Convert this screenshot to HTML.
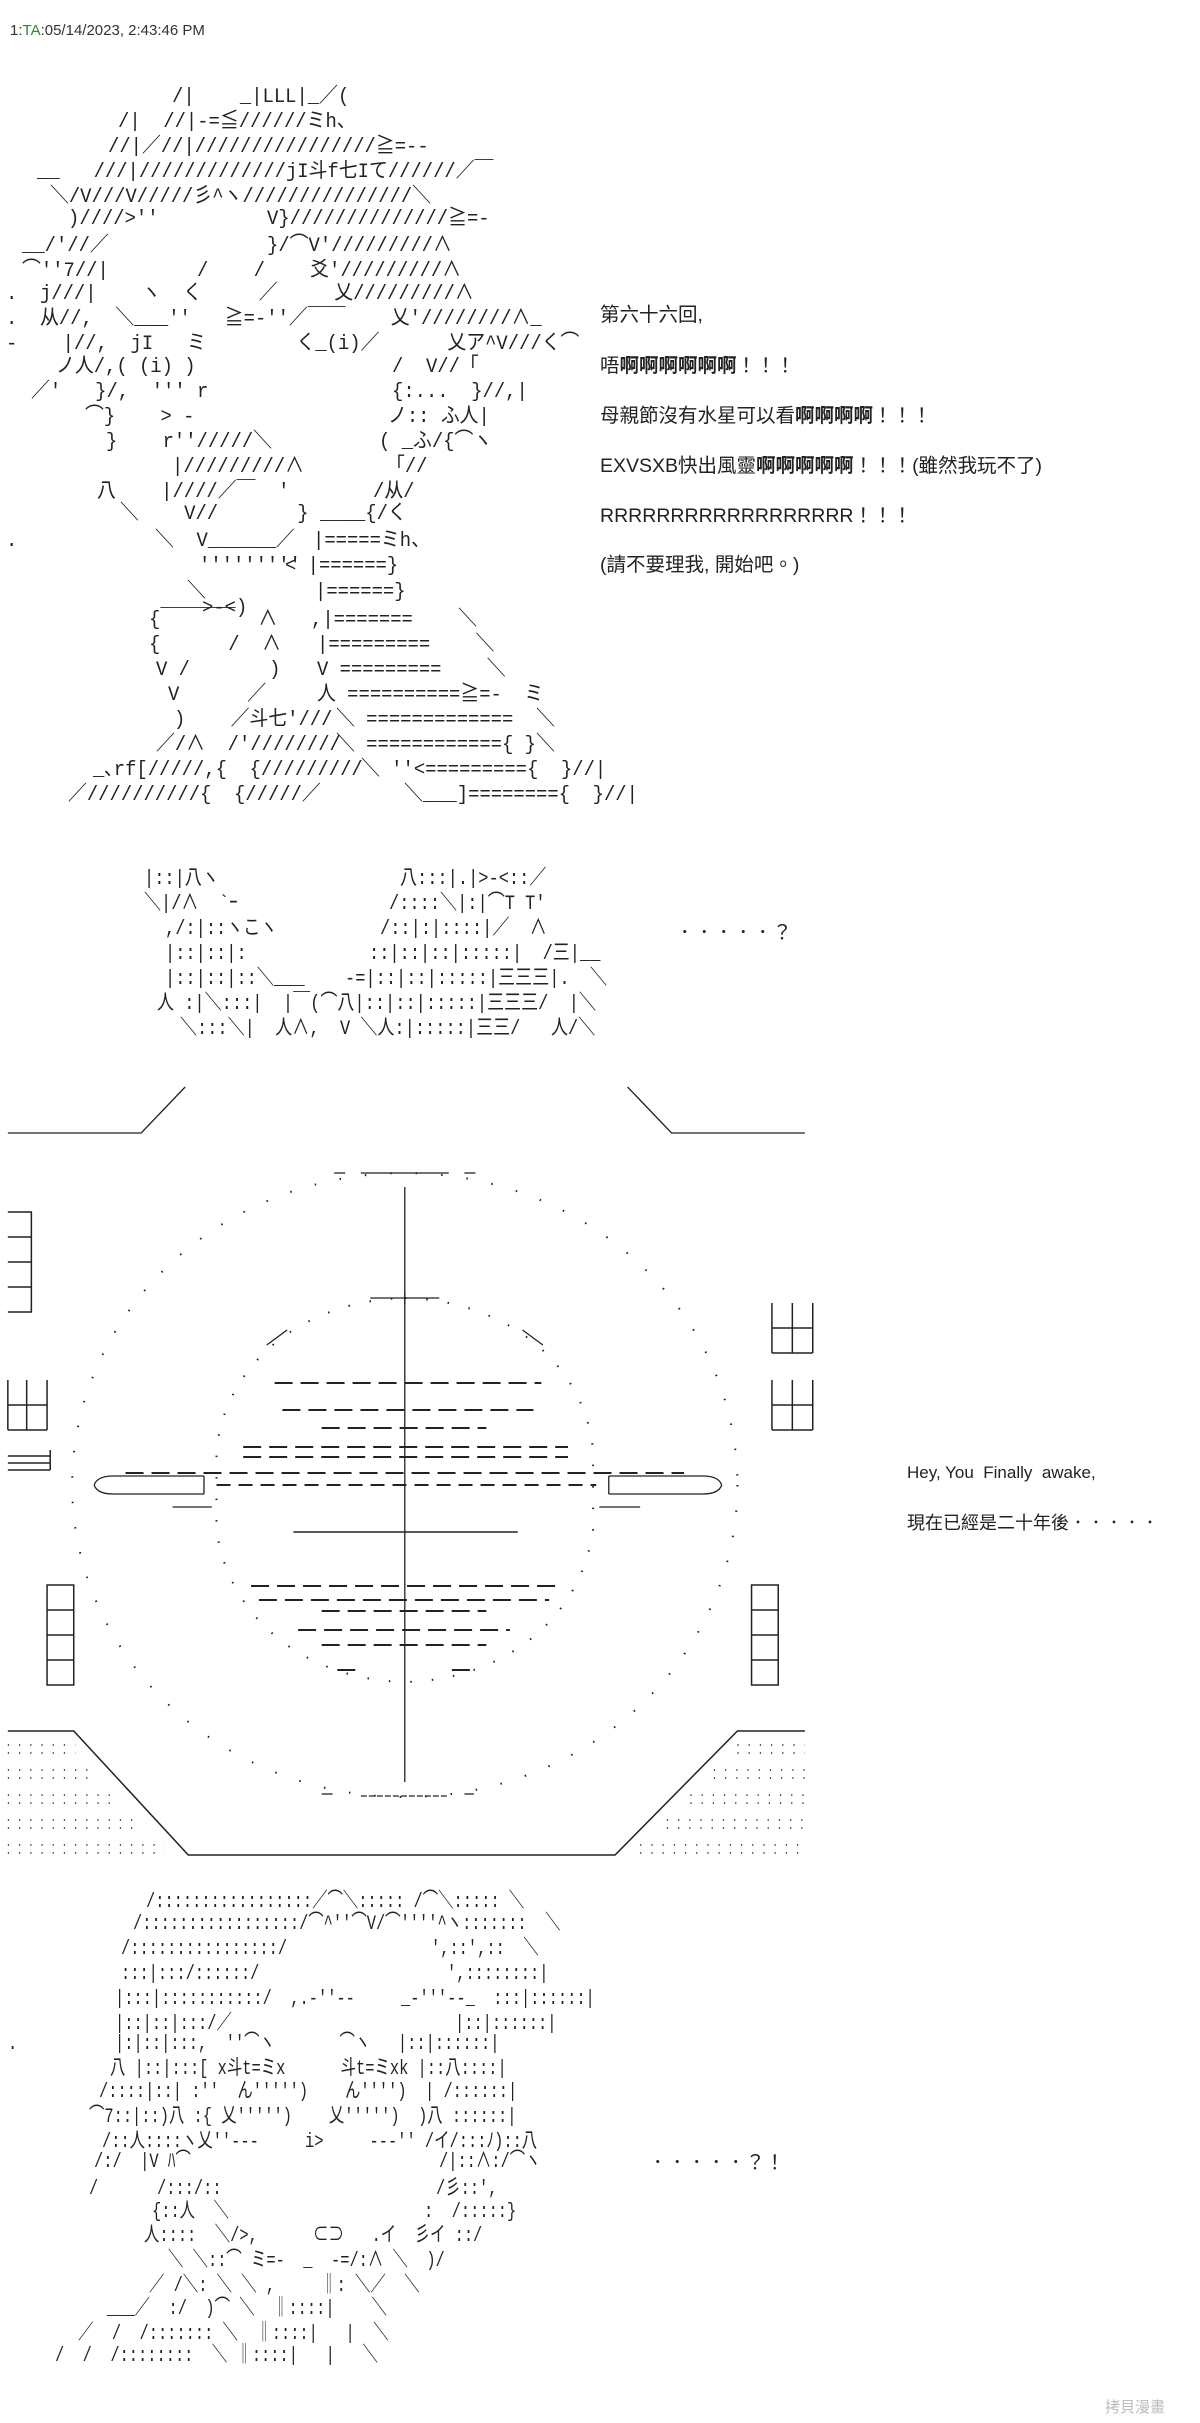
<!DOCTYPE html>
<html><head><meta charset="utf-8">
<style>
html,body{margin:0;padding:0;background:#fff;}
body{width:1200px;height:2423px;position:relative;overflow:hidden;}
.a{position:absolute;white-space:pre;font:20.5px/1 "Liberation Mono","Noto Sans CJK JP",monospace;color:#222;transform-origin:0 0;}
.s1 .a{transform:scaleX(0.92);}
.s2 .a{transform:scaleX(0.83);}
.s4 .a{transform:scaleX(0.75);}
.t{position:absolute;white-space:pre;font:19.5px/1 "Liberation Sans","Noto Sans CJK TC",sans-serif;color:#222;}
.b{font-weight:bold;}
svg{position:absolute;left:0;top:0;}
svg *{vector-effect:non-scaling-stroke;}
</style></head><body>
<div class="t" style="left:10px;top:23px;font-size:15px;color:#333">1:<span style="color:#2a8a2a">TA</span>:05/14/2023, 2:43:46 PM</div>

<div class="s1">
<div class="a" style="left:172px;top:88px">/|    _|LLL|_／(</div>
<div class="a" style="left:118px;top:113px">/|  //|-=≦//////ミh、</div>
<div class="a" style="left:108px;top:138px">//|／//|////////////////≧=--</div>
<div class="a" style="left:37px;top:163px">__   ///|/////////////jI斗f七Iて//////／￣</div>
<div class="a" style="left:50px;top:188px">＼/V///V/////彡^ヽ///////////////＼</div>
<div class="a" style="left:68px;top:210px">)////>''</div><div class="a" style="left:267px;top:210px">V}//////////////≧=-</div>
<div class="a" style="left:22px;top:237px">__/'//／</div><div class="a" style="left:267px;top:237px">}/⌒V'/////////∧</div>
<div class="a" style="left:22px;top:262px">⌒''7//|</div><div class="a" style="left:197px;top:262px">/    /    爻'/////////∧</div>
<div class="a" style="left:6px;top:285px">.  j///|    ヽ  く     ／     乂/////////∧</div>
<div class="a" style="left:6px;top:310px">.  从//,  ＼___''   ≧=-''／￣￣    乂'////////∧_</div>
<div class="a" style="left:6px;top:335px">-    |//,  jI   ミ        く_(i)／      乂ア^V///く⌒</div>
<div class="a" style="left:56px;top:358px">ノ人/,( (i) )</div><div class="a" style="left:392px;top:358px">/  V//「</div>
<div class="a" style="left:31px;top:383px">／'   }/,  ''' r</div><div class="a" style="left:392px;top:383px">{:...  }//,|</div>
<div class="a" style="left:85px;top:408px">⌒}    > -</div><div class="a" style="left:388px;top:408px">ノ:: ふ人|</div>
<div class="a" style="left:106px;top:433px">}    r''/////＼</div><div class="a" style="left:379px;top:433px">( _ふ/{⌒ヽ</div>
<div class="a" style="left:172px;top:458px">|/////////∧</div><div class="a" style="left:386px;top:458px">「//</div>
<div class="a" style="left:97px;top:483px">八    |////／￣  '</div><div class="a" style="left:373px;top:483px">/从/</div>
<div class="a" style="left:120px;top:505px">＼    V//       }</div><div class="a" style="left:320px;top:505px">____{/く</div>
<div class="a" style="left:6px;top:532px">.</div><div class="a" style="left:155px;top:532px">＼  V______／</div><div class="a" style="left:313px;top:532px">|=====ミh、</div>
<div class="a" style="left:199px;top:557px">'''''''''</div><div class="a" style="left:285px;top:557px">< |======}</div>
<div class="a" style="left:187px;top:583px">＼</div><div class="a" style="left:315px;top:583px">|======}</div>
<div class="a" style="left:202px;top:599px">&gt;-&lt;)</div>
<div class="a" style="left:149px;top:611px">{￣￣￣￣  ∧</div><div class="a" style="left:311px;top:611px">,|=======    ＼</div>
<div class="a" style="left:149px;top:636px">{      /  ∧</div><div class="a" style="left:317px;top:636px">|=========    ＼</div>
<div class="a" style="left:156px;top:661px">V /       )</div><div class="a" style="left:317px;top:661px">V =========    ＼</div>
<div class="a" style="left:168px;top:686px">V      ／</div><div class="a" style="left:317px;top:686px">人 ==========≧=-  ミ</div>
<div class="a" style="left:174px;top:711px">)    ／斗七'///</div><div class="a" style="left:336px;top:711px">＼ =============  ＼</div>
<div class="a" style="left:156px;top:736px">／/∧  /'////////</div><div class="a" style="left:336px;top:736px">＼ ============{ }＼</div>
<div class="a" style="left:93px;top:761px">_､rf[/////,{  {/////////</div><div class="a" style="left:361px;top:761px">＼ ''<========={  }//|</div>
<div class="a" style="left:68px;top:786px">／//////////{  {/////／</div><div class="a" style="left:404px;top:786px">＼___]========{  }//|</div>
</div>

<div class="t" style="left:600px;top:306px">第六十六回,</div>
<div class="t" style="left:600px;top:357px">唔<span class="b">啊啊啊啊啊啊</span>！！！</div>
<div class="t" style="left:600px;top:407px">母親節沒有水星可以看<span class="b">啊啊啊啊</span>！！！</div>
<div class="t" style="left:600px;top:457px">EXVSXB快出風靈<span class="b">啊啊啊啊啊</span>！！！(雖然我玩不了)</div>
<div class="t" style="left:600px;top:507px">RRRRRRRRRRRRRRRRRR！！！</div>
<div class="t" style="left:600px;top:556px">(請不要理我, 開始吧。)</div>

<div class="s2">
<div class="a" style="left:144px;top:870px">|::|八ヽ</div><div class="a" style="left:400px;top:870px">八:::|.|>-<::／</div>
<div class="a" style="left:144px;top:895px">＼|/∧  `ｰ</div><div class="a" style="left:389px;top:895px">/::::＼|:|⌒T T'</div>
<div class="a" style="left:165px;top:920px">,/:|::ヽこヽ</div><div class="a" style="left:380px;top:920px">/::|:|::::|／  ∧</div>
<div class="a" style="left:165px;top:945px">|::|::|:</div><div class="a" style="left:369px;top:945px">::|::|::|:::::|  /三|__</div>
<div class="a" style="left:165px;top:970px">|::|::|::＼___</div><div class="a" style="left:345px;top:970px">-=|::|::|:::::|三三三|.  ＼</div>
<div class="a" style="left:157px;top:995px">人 :|＼:::|  |￣(⌒八|::|::|:::::|三三三/  |＼</div>
<div class="a" style="left:180px;top:1020px">＼:::＼|  人∧,  V ＼人:|:::::|三三/   人/＼</div>
</div>
<div class="t" style="left:675px;top:924px">．．．．．？</div>

<svg width="1200" height="2423" viewBox="0 0 1200 2423" fill="none" stroke="#222" stroke-width="1.3">
<g transform="matrix(1.569,0,0,1,0,0)">
<polyline points="5,1133 90,1133 118,1087"/>
<polyline points="400,1087 428,1133 513,1133"/>
<line x1="213" y1="1173" x2="220" y2="1173"/><line x1="230" y1="1173" x2="286" y2="1173"/><line x1="296" y1="1173" x2="303" y2="1173"/>
<line x1="258" y1="1187" x2="258" y2="1782"/>
<ellipse cx="258" cy="1485" rx="212" ry="312" stroke-dasharray="1.5 24" stroke-width="2"/>
<path d="M258 1298 C 320 1300 372 1360 378 1450 L 378 1530 C 370 1620 320 1680 258 1682 C 196 1680 146 1620 138 1530 L 138 1450 C 144 1360 196 1300 258 1298 Z" stroke-dasharray="1.5 20" stroke-width="2"/>
<line x1="236" y1="1298" x2="280" y2="1298"/><line x1="258" y1="1292" x2="258" y2="1304"/>
<line x1="170" y1="1345" x2="183" y2="1330"/><line x1="333" y1="1330" x2="346" y2="1345"/>
<g stroke-dasharray="18 8" stroke-width="2">
<line x1="175" y1="1383" x2="345" y2="1383"/>
<line x1="180" y1="1410" x2="340" y2="1410"/>
<line x1="205" y1="1428" x2="310" y2="1428"/>
<line x1="155" y1="1447" x2="362" y2="1447"/>
<line x1="155" y1="1457" x2="362" y2="1457"/>
<line x1="80" y1="1473" x2="436" y2="1473"/>
<line x1="160" y1="1586" x2="355" y2="1586"/>
<line x1="165" y1="1600" x2="350" y2="1600"/>
<line x1="205" y1="1611" x2="310" y2="1611"/>
<line x1="190" y1="1630" x2="325" y2="1630"/>
<line x1="205" y1="1645" x2="310" y2="1645"/>
<line x1="215" y1="1670" x2="230" y2="1670"/><line x1="288" y1="1670" x2="303" y2="1670"/>
</g>
<path d="M60 1485 Q62 1476 72 1476 L130 1476 M60 1485 Q62 1494 72 1494 L130 1494 M130 1476 L130 1494 M460 1485 Q458 1476 448 1476 L388 1476 M460 1485 Q458 1494 448 1494 L388 1494 M388 1476 L388 1494" />
<line x1="138" y1="1485" x2="380" y2="1485" stroke-dasharray="14 8" stroke-width="2"/>
<line x1="110" y1="1507" x2="135" y2="1507"/><line x1="382" y1="1507" x2="408" y2="1507"/>
<line x1="187" y1="1532" x2="330" y2="1532" stroke-width="1.5"/>
<line x1="205" y1="1794" x2="212" y2="1794"/><line x1="230" y1="1796" x2="285" y2="1796" stroke-dasharray="6 2"/><line x1="296" y1="1794" x2="302" y2="1794"/>
<g stroke-width="1.5">
<path d="M5 1212 H20 V1312 H5 M5 1237 H20 M5 1262 H20 M5 1287 H20"/>
<path d="M5 1380 V1430 M17 1380 V1430 M30 1380 V1430 M5 1405 H30 M5 1430 H30"/>
<path d="M5 1456 H32 M5 1463 H32 M5 1470 H32 M32 1450 V1470"/>
<path d="M492 1303 V1353 M505 1303 V1353 M518 1303 V1353 M492 1328 H518 M492 1353 H518"/>
<path d="M492 1380 V1430 M505 1380 V1430 M518 1380 V1430 M492 1405 H518 M492 1430 H518"/>
<path d="M30 1585 H47 V1685 H30 Z M30 1610 H47 M30 1635 H47 M30 1660 H47"/>
<path d="M479 1585 H496 V1685 H479 Z M479 1610 H496 M479 1635 H496 M479 1660 H496"/>
</g>
<polyline points="5,1731 47,1731 120,1855 392,1855 470,1731 513,1731" stroke-width="1.5"/>
<g stroke-dasharray="1.2 10" stroke-width="1.4">
<line x1="5" y1="1745" x2="48" y2="1745"/><line x1="5" y1="1753" x2="48" y2="1753"/>
<line x1="5" y1="1770" x2="60" y2="1770"/><line x1="5" y1="1778" x2="60" y2="1778"/>
<line x1="5" y1="1795" x2="75" y2="1795"/><line x1="5" y1="1803" x2="75" y2="1803"/>
<line x1="5" y1="1820" x2="90" y2="1820"/><line x1="5" y1="1828" x2="90" y2="1828"/>
<line x1="5" y1="1845" x2="105" y2="1845"/><line x1="5" y1="1853" x2="105" y2="1853"/>
<line x1="470" y1="1745" x2="513" y2="1745"/><line x1="470" y1="1753" x2="513" y2="1753"/>
<line x1="455" y1="1770" x2="513" y2="1770"/><line x1="455" y1="1778" x2="513" y2="1778"/>
<line x1="440" y1="1795" x2="513" y2="1795"/><line x1="440" y1="1803" x2="513" y2="1803"/>
<line x1="425" y1="1820" x2="513" y2="1820"/><line x1="425" y1="1828" x2="513" y2="1828"/>
<line x1="408" y1="1845" x2="513" y2="1845"/><line x1="408" y1="1853" x2="513" y2="1853"/>
</g>
</g>
</svg>

<div class="t" style="left:907px;top:1464px;font-size:17px">Hey, You  Finally  awake,</div>
<div class="t" style="left:907px;top:1514px;font-size:18px">現在已經是二十年後．．．．．</div>

<div class="s4">
<div class="a" style="left:146px;top:1893px">/:::::::::::::::::／⌒＼::::: /⌒＼::::: ＼</div>
<div class="a" style="left:133px;top:1915px">/:::::::::::::::::/⌒^''⌒V/⌒''''^ヽ:::::::  ＼</div>
<div class="a" style="left:121px;top:1940px">/::::::::::::::::/</div><div class="a" style="left:431px;top:1940px">',::',::  ＼</div>
<div class="a" style="left:121px;top:1965px">:::|:::/::::::/</div><div class="a" style="left:447px;top:1965px">',::::::::|</div>
<div class="a" style="left:115px;top:1990px">|:::|:::::::::::/  ,.-''--     _-'''--_  :::|::::::|</div>
<div class="a" style="left:115px;top:2015px">|::|::|:::/／</div><div class="a" style="left:455px;top:2015px">|::|::::::|</div>
<div class="a" style="left:8px;top:2035px">.</div><div class="a" style="left:115px;top:2035px">|:|::|:::,  ''⌒ヽ       ⌒ヽ   |::|::::::|</div>
<div class="a" style="left:110px;top:2060px">八 |::|:::[ x斗t=ミx      斗t=ミxk |::八::::|</div>
<div class="a" style="left:99px;top:2083px">/::::|::| :''  ん''''')    ん'''')  | /::::::|</div>
<div class="a" style="left:89px;top:2108px">⌒7::|::)八 :{ 乂''''')    乂''''')  )八 ::::::|</div>
<div class="a" style="left:102px;top:2133px">/::人::::ヽ乂''---     i>     ---'' /イ/:::ﾉ)::八</div>
<div class="a" style="left:94px;top:2153px">/:/  |V ﾊ⌒</div><div class="a" style="left:439px;top:2153px">/|::∧:/⌒ヽ</div>
<div class="a" style="left:89px;top:2180px">/</div><div class="a" style="left:157px;top:2180px">/:::/::</div><div class="a" style="left:436px;top:2180px">/彡::',</div>
<div class="a" style="left:152px;top:2203px">{::人  ＼</div><div class="a" style="left:424px;top:2203px">:  /:::::}</div>
<div class="a" style="left:144px;top:2227px">人::::  ＼/>,      ⊂⊃   .イ  彡イ ::/</div>
<div class="a" style="left:168px;top:2252px">＼ ＼::⌒ ミ=-  _  -=/:∧ ＼  )/</div>
<div class="a" style="left:149px;top:2277px">／ /＼: ＼ ＼ ,     ‖: ＼／  ＼</div>
<div class="a" style="left:107px;top:2300px">___／  :/  )⌒ ＼  ‖::::|    ＼</div>
<div class="a" style="left:78px;top:2325px">／  /  /::::::: ＼  ‖::::|   |  ＼</div>
<div class="a" style="left:55px;top:2347px">/  /  /::::::::  ＼ ‖::::|   |   ＼</div>
</div>
<div class="t" style="left:648px;top:2154px">．．．．．？！</div>

<div class="t" style="left:1105px;top:2400px;font-size:15px;color:#bbb">拷貝漫畫</div>
</body></html>
